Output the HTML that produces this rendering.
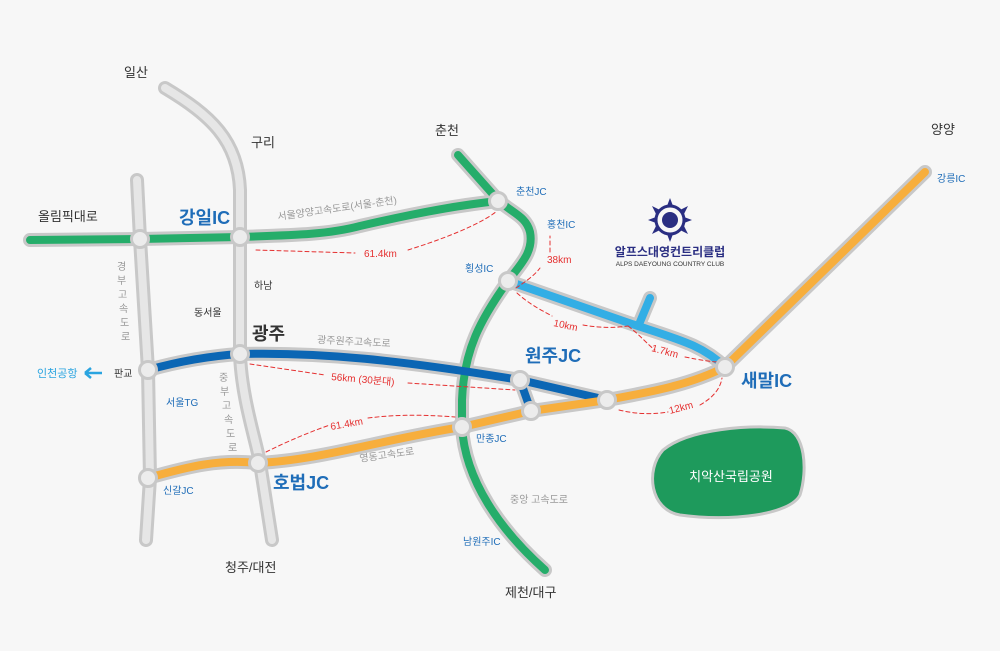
<!DOCTYPE html>
<html><head><meta charset="utf-8"><style>
html,body{margin:0;padding:0;background:#f7f7f7}
svg{display:block}
text{font-family:"Liberation Sans","Noto Sans CJK KR",sans-serif}
</style></head><body>
<svg width="1000" height="651" viewBox="0 0 1000 651" xmlns="http://www.w3.org/2000/svg">
<rect width="1000" height="651" fill="#f7f7f7"/>
<g fill="none" stroke-linecap="round" stroke-linejoin="round">
<path d="M165,88 C210,115 238,140 240,190 L240,355 C242,400 256,440 260,463 L272,540" stroke="#c8c8c8" stroke-width="14"/>
<path d="M165,88 C210,115 238,140 240,190 L240,355 C242,400 256,440 260,463 L272,540" stroke="#e6e6e6" stroke-width="8"/>
<path d="M137,180 L140,239 L148,370 L150,478 L146,540" stroke="#c8c8c8" stroke-width="14"/>
<path d="M137,180 L140,239 L148,370 L150,478 L146,540" stroke="#e6e6e6" stroke-width="8"/>
<g stroke="#c8c8c8" stroke-width="14">
<path d="M30,240 L140,239 L240,237 C300,235 330,234 360,226 C420,212 460,205 498,201"/>
<path d="M458,155 L498,200 C512,213 526,216 530,232 C534,252 520,265 508,281 C480,320 464,350 462,400 L462,427 C465,480 500,530 545,570"/>
<path d="M148,370 C180,361 210,356 240,354 C320,352 400,360 520,380 L607,400"/>
<path d="M520,380 L531,411"/>
<path d="M148,478 C190,466 220,459 258,463 C320,460 380,440 462,427 L531,411 L607,400 C650,392 690,385 725,367 L925,172"/>
<path d="M508,281 L632,324 C680,340 702,345 725,367"/>
<path d="M640,322 L650,298"/>
</g>
<g stroke-width="8">
<path d="M30,240 L140,239 L240,237 C300,235 330,234 360,226 C420,212 460,205 498,201" stroke="#25ad6a"/>
<path d="M458,155 L498,200 C512,213 526,216 530,232 C534,252 520,265 508,281 C480,320 464,350 462,400 L462,427 C465,480 500,530 545,570" stroke="#25ad6a"/>
<path d="M148,370 C180,361 210,356 240,354 C320,352 400,360 520,380 L607,400" stroke="#0b66b4"/>
<path d="M520,380 L531,411" stroke="#0b66b4"/>
<path d="M148,478 C190,466 220,459 258,463 C320,460 380,440 462,427 L531,411 L607,400 C650,392 690,385 725,367 L925,172" stroke="#f7ae3c"/>
<path d="M508,281 L632,324 C680,340 702,345 725,367" stroke="#33aee5"/>
<path d="M640,322 L650,298" stroke="#33aee5"/>
</g>
<g stroke="#e53030" stroke-width="1" stroke-dasharray="4,3">
<path d="M256,250 L355,253"/><path d="M408,250 C440,240 480,225 497,211"/>
<path d="M250,364 L325,375"/><path d="M408,383 L515,390"/>
<path d="M266,452 C290,440 315,430 330,425"/><path d="M368,418 C400,414 430,415 455,417"/>
<path d="M516,288 C525,282 535,275 540,268"/><path d="M550,252 L550,236"/>
<path d="M517,293 C530,305 545,312 552,316"/><path d="M583,325 C600,328 615,328 628,326"/>
<path d="M628,326 C640,335 648,345 655,350"/><path d="M685,357 C700,360 712,362 720,362"/>
<path d="M619,410 C640,415 655,414 668,412"/><path d="M700,405 C712,398 720,390 722,378"/>
</g>
</g>
<g fill="#ececec" stroke="#c8c8c8" stroke-width="3">
<circle cx="140" cy="239" r="8.5"/><circle cx="240" cy="237" r="8.5"/><circle cx="498" cy="201" r="8.5"/>
<circle cx="508" cy="281" r="8.5"/><circle cx="240" cy="354" r="8.5"/><circle cx="148" cy="370" r="8.5"/>
<circle cx="520" cy="380" r="8.5"/><circle cx="531" cy="411" r="8.5"/><circle cx="607" cy="400" r="8.5"/>
<circle cx="462" cy="427" r="8.5"/><circle cx="258" cy="463" r="8.5"/><circle cx="148" cy="478" r="8.5"/>
<circle cx="725" cy="367" r="8.5"/>
</g>
<path d="M663,450 C690,428 750,425 785,428 C805,432 808,470 800,495 C790,515 730,522 680,515 C650,510 645,470 663,450 Z" fill="#1e9a5c" stroke="#c8c8c8" stroke-width="3"/>
<text x="731" y="481" fill="#fff" font-size="13" text-anchor="middle">치악산국립공원</text>
<g fill="#2a2e82">
<circle cx="670" cy="220" r="14" fill="none" stroke="#2a2e82" stroke-width="3"/>
<circle cx="670" cy="220" r="8"/>
<path d="M670,198 L673,206 L667,206Z M670,242 L673,234 L667,234Z M648,220 L656,217 L656,223Z M692,220 L684,217 L684,223Z"/>
<path d="M652,206 L660,210 L656,214Z M688,206 L680,210 L684,214Z M652,234 L660,230 L656,226Z M688,234 L680,230 L684,226Z"/>
</g>
<text x="670" y="256" fill="#2a2e82" font-size="12" font-weight="bold" text-anchor="middle">알프스대영컨트리클럽</text>
<text x="670" y="266" fill="#333" font-size="6.5" text-anchor="middle" font-family="Liberation Serif">ALPS DAEYOUNG COUNTRY CLUB</text>
<g fill="#333" font-size="13">
<text x="124" y="77">일산</text><text x="251" y="147">구리</text><text x="435" y="135">춘천</text>
<text x="931" y="134">양양</text><text x="38" y="221">올림픽대로</text>
<text x="225" y="572">청주/대전</text><text x="505" y="597">제천/대구</text>
</g>
<g fill="#333" font-size="10"><text x="254" y="289">하남</text><text x="194" y="316">동서울</text><text x="114" y="377">판교</text></g>
<text x="252" y="340" fill="#333" font-size="18" font-weight="bold">광주</text>
<g fill="#1f6db8">
<g font-size="18" font-weight="bold">
<text x="179" y="224">강일IC</text>
<text x="525" y="362">원주JC</text>
<text x="741" y="387">새말IC</text>
<text x="273" y="489">호법JC</text>
</g>
<g font-size="10"><text x="516" y="195">춘천JC</text><text x="547" y="228">홍천IC</text><text x="465" y="272">횡성IC</text>
<text x="937" y="182">강릉IC</text><text x="166" y="406">서울TG</text><text x="476" y="442">만종JC</text>
<text x="163" y="494">신갈JC</text><text x="463" y="545">남원주IC</text></g>
</g>
<text x="37" y="377" fill="#2aa4e0" font-size="11">인천공항</text>
<path d="M85,373 L102,373 M85,373 L91,368 M85,373 L91,378" stroke="#2aa4e0" stroke-width="2.5" fill="none"/>
<g fill="#999" font-size="10">
<text x="278" y="220" transform="rotate(-8 278 220)">서울양양고속도로(서울-춘천)</text>
<text x="317" y="343" transform="rotate(3 317 343)">광주원주고속도로</text>
<text x="360" y="462" transform="rotate(-8 360 462)">영동고속도로</text>
<text x="510" y="503">중앙 고속도로</text>
<text x="117" y="270">경</text><text x="117" y="284">부</text><text x="118" y="298">고</text><text x="119" y="312">속</text><text x="120" y="326">도</text><text x="121" y="340">로</text>
<text x="219" y="381">중</text><text x="220" y="395">부</text><text x="222" y="409">고</text><text x="224" y="423">속</text><text x="226" y="437">도</text><text x="228" y="451">로</text>
</g>
<g fill="#e53030" font-size="10">
<text x="364" y="257">61.4km</text>
<text x="331" y="380" transform="rotate(5 331 380)">56km (30분대)</text>
<text x="331" y="430" transform="rotate(-10 331 430)">61.4km</text>
<text x="547" y="263">38km</text>
<text x="553" y="326" transform="rotate(12 553 326)">10km</text>
<text x="651" y="351" transform="rotate(15 651 351)">1.7km</text>
<text x="670" y="414" transform="rotate(-15 670 414)">12km</text>
</g>
</svg>
</body></html>
